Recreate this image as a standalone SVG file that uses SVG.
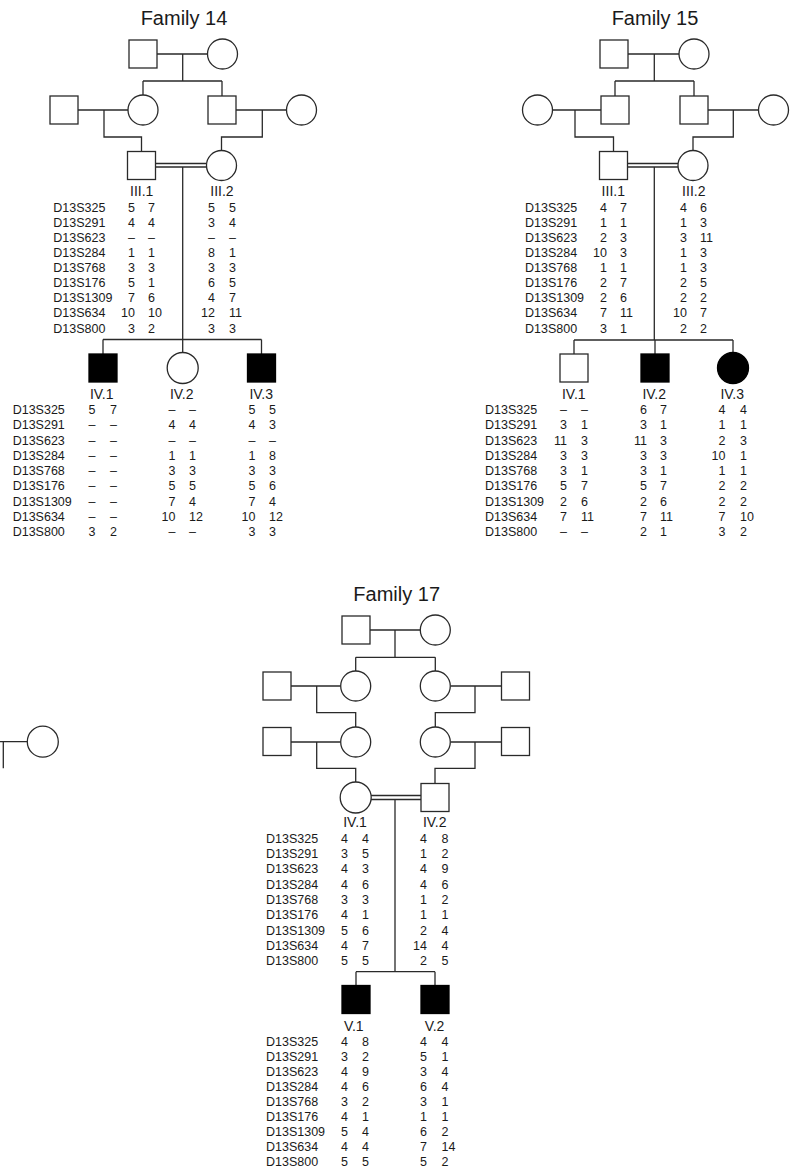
<svg xmlns="http://www.w3.org/2000/svg" width="790" height="1169" viewBox="0 0 790 1169">
<style>
.ln{fill:none;stroke:#2a2a2a;stroke-width:1.3}
.o{fill:#fff;stroke:#2a2a2a;stroke-width:1.3}
.f{fill:#000;stroke:#000;stroke-width:1.3}
text{font-family:"Liberation Sans",Arial,sans-serif;fill:#1a1a1a}
.ttl{font-size:20px;text-anchor:middle}
.lb{font-size:14px;text-anchor:middle}
.d{font-size:12.5px}
.e{text-anchor:end}
</style>
<rect width="790" height="1169" fill="#fff"/>

<g id="connectors">
<!-- Family 14 -->
<path class="ln" d="M157,54H207.5M182.7,54V81M143,81H222M143,81V95M222,81V96"/>
<path class="ln" d="M78,110H128M104,110V137H141.5V151.5M236,110H286.5M262.3,110V137H221.5V150.5"/>
<path class="ln" d="M155.5,163.5H206.5M155.5,167H206.5M182.7,167V339.5M103,339.5H261.5M103,339.5V354M182.7,339.5V352.5M261.5,339.5V354"/>
<!-- Family 15 -->
<path class="ln" d="M628,54H679M654.3,54V81M615,81H694M615,81V96M694,81V96"/>
<path class="ln" d="M552.5,110H601M575,110V137H613.5V151.5M708,110H758.5M733.3,110V137H693V150.5"/>
<path class="ln" d="M627.5,163.5H678M627.5,167H678M654.3,167V340M574,340H733M574,340V354M655,340V354M733,340V352.5"/>
<!-- Family 17 -->
<path class="ln" d="M370,630H420.3M395,630V657.3M355.7,657.3H435.3M355.7,657.3V671M435.3,657.3V671"/>
<path class="ln" d="M291,686H340.7M316.7,686V712.7H355.7V727M451,686H501.5M475,686V712.7H435.3V727"/>
<path class="ln" d="M291,742H340.7M316.7,742V768.3H355.7V782M451,742H501.5M475,742V768.3H435V783.5"/>
<path class="ln" d="M371,795.5H421M371,799.5H421M395,799.5V971.7M356,971.7H435M356,971.7V985.5M435,971.7V985.5"/>
<!-- partial pedigree at left edge -->
<path class="ln" d="M0,741.7H27.3M3.3,741.7V768.3"/>
</g>

<!-- Family 14 -->
<text class="ttl" x="184" y="25">Family 14</text>
<g id="f14-I1"><rect class="o" x="129" y="40" width="28" height="28"/></g>
<g id="f14-I2"><circle class="o" cx="222.5" cy="54" r="15"/></g>
<g id="f14-II1"><rect class="o" x="50" y="96" width="28" height="28"/></g>
<g id="f14-II2"><circle class="o" cx="143" cy="110" r="15"/></g>
<g id="f14-II3"><rect class="o" x="208" y="96" width="28" height="28"/></g>
<g id="f14-II4"><circle class="o" cx="301.5" cy="110" r="15"/></g>
<g id="f14-III1"><rect class="o" x="127.5" y="151.5" width="28" height="28"/>
<text class="lb" x="141.7" y="196">III.1</text>
<text class="d" y="211.7"><tspan x="53.3">D13S325</tspan><tspan x="53.3" dy="15.1">D13S291</tspan><tspan x="53.3" dy="15.1">D13S623</tspan><tspan x="53.3" dy="15.1">D13S284</tspan><tspan x="53.3" dy="15.1">D13S768</tspan><tspan x="53.3" dy="15.1">D13S176</tspan><tspan x="53.3" dy="15.1">D13S1309</tspan><tspan x="53.3" dy="15.1">D13S634</tspan><tspan x="53.3" dy="15.1">D13S800</tspan></text>
<text class="d e" y="211.7"><tspan x="135">5</tspan><tspan x="135" dy="15.1">4</tspan><tspan x="135" dy="15.1">–</tspan><tspan x="135" dy="15.1">1</tspan><tspan x="135" dy="15.1">3</tspan><tspan x="135" dy="15.1">5</tspan><tspan x="135" dy="15.1">7</tspan><tspan x="135" dy="15.1">10</tspan><tspan x="135" dy="15.1">3</tspan></text>
<text class="d" y="211.7"><tspan x="148">7</tspan><tspan x="148" dy="15.1">4</tspan><tspan x="148" dy="15.1">–</tspan><tspan x="148" dy="15.1">1</tspan><tspan x="148" dy="15.1">3</tspan><tspan x="148" dy="15.1">1</tspan><tspan x="148" dy="15.1">6</tspan><tspan x="148" dy="15.1">10</tspan><tspan x="148" dy="15.1">2</tspan></text>
</g>
<g id="f14-III2"><circle class="o" cx="221.5" cy="165.5" r="15"/>
<text class="lb" x="222" y="196">III.2</text>
<text class="d e" y="211.7"><tspan x="215">5</tspan><tspan x="215" dy="15.1">3</tspan><tspan x="215" dy="15.1">–</tspan><tspan x="215" dy="15.1">8</tspan><tspan x="215" dy="15.1">3</tspan><tspan x="215" dy="15.1">6</tspan><tspan x="215" dy="15.1">4</tspan><tspan x="215" dy="15.1">12</tspan><tspan x="215" dy="15.1">3</tspan></text>
<text class="d" y="211.7"><tspan x="229">5</tspan><tspan x="229" dy="15.1">4</tspan><tspan x="229" dy="15.1">–</tspan><tspan x="229" dy="15.1">1</tspan><tspan x="229" dy="15.1">3</tspan><tspan x="229" dy="15.1">5</tspan><tspan x="229" dy="15.1">7</tspan><tspan x="229" dy="15.1">11</tspan><tspan x="229" dy="15.1">3</tspan></text>
</g>
<g id="f14-IV1"><rect class="f" x="89" y="354" width="28" height="28"/>
<text class="lb" x="101.7" y="399">IV.1</text>
<text class="d" y="414"><tspan x="12.7">D13S325</tspan><tspan x="12.7" dy="15.25">D13S291</tspan><tspan x="12.7" dy="15.25">D13S623</tspan><tspan x="12.7" dy="15.25">D13S284</tspan><tspan x="12.7" dy="15.25">D13S768</tspan><tspan x="12.7" dy="15.25">D13S176</tspan><tspan x="12.7" dy="15.25">D13S1309</tspan><tspan x="12.7" dy="15.25">D13S634</tspan><tspan x="12.7" dy="15.25">D13S800</tspan></text>
<text class="d e" y="414"><tspan x="95.5">5</tspan><tspan x="95.5" dy="15.25">–</tspan><tspan x="95.5" dy="15.25">–</tspan><tspan x="95.5" dy="15.25">–</tspan><tspan x="95.5" dy="15.25">–</tspan><tspan x="95.5" dy="15.25">–</tspan><tspan x="95.5" dy="15.25">–</tspan><tspan x="95.5" dy="15.25">–</tspan><tspan x="95.5" dy="15.25">3</tspan></text>
<text class="d" y="414"><tspan x="110">7</tspan><tspan x="110" dy="15.25">–</tspan><tspan x="110" dy="15.25">–</tspan><tspan x="110" dy="15.25">–</tspan><tspan x="110" dy="15.25">–</tspan><tspan x="110" dy="15.25">–</tspan><tspan x="110" dy="15.25">–</tspan><tspan x="110" dy="15.25">–</tspan><tspan x="110" dy="15.25">2</tspan></text>
</g>
<g id="f14-IV2"><circle class="o" cx="182.7" cy="368" r="15.5"/>
<text class="lb" x="181.7" y="399">IV.2</text>
<text class="d e" y="414"><tspan x="175.5">–</tspan><tspan x="175.5" dy="15.25">4</tspan><tspan x="175.5" dy="15.25">–</tspan><tspan x="175.5" dy="15.25">1</tspan><tspan x="175.5" dy="15.25">3</tspan><tspan x="175.5" dy="15.25">5</tspan><tspan x="175.5" dy="15.25">7</tspan><tspan x="175.5" dy="15.25">10</tspan><tspan x="175.5" dy="15.25">–</tspan></text>
<text class="d" y="414"><tspan x="189">–</tspan><tspan x="189" dy="15.25">4</tspan><tspan x="189" dy="15.25">–</tspan><tspan x="189" dy="15.25">1</tspan><tspan x="189" dy="15.25">3</tspan><tspan x="189" dy="15.25">5</tspan><tspan x="189" dy="15.25">4</tspan><tspan x="189" dy="15.25">12</tspan><tspan x="189" dy="15.25">–</tspan></text>
</g>
<g id="f14-IV3"><rect class="f" x="247.5" y="354" width="28" height="28"/>
<text class="lb" x="261.2" y="399">IV.3</text>
<text class="d e" y="414"><tspan x="255.5">5</tspan><tspan x="255.5" dy="15.25">4</tspan><tspan x="255.5" dy="15.25">–</tspan><tspan x="255.5" dy="15.25">1</tspan><tspan x="255.5" dy="15.25">3</tspan><tspan x="255.5" dy="15.25">5</tspan><tspan x="255.5" dy="15.25">7</tspan><tspan x="255.5" dy="15.25">10</tspan><tspan x="255.5" dy="15.25">3</tspan></text>
<text class="d" y="414"><tspan x="269">5</tspan><tspan x="269" dy="15.25">3</tspan><tspan x="269" dy="15.25">–</tspan><tspan x="269" dy="15.25">8</tspan><tspan x="269" dy="15.25">3</tspan><tspan x="269" dy="15.25">6</tspan><tspan x="269" dy="15.25">4</tspan><tspan x="269" dy="15.25">12</tspan><tspan x="269" dy="15.25">3</tspan></text>
</g>

<!-- Family 15 -->
<text class="ttl" x="655" y="25">Family 15</text>
<g id="f15-I1"><rect class="o" x="600" y="40" width="28" height="28"/></g>
<g id="f15-I2"><circle class="o" cx="694" cy="54" r="15"/></g>
<g id="f15-II1"><circle class="o" cx="537.5" cy="110" r="15"/></g>
<g id="f15-II2"><rect class="o" x="601" y="96" width="28" height="28"/></g>
<g id="f15-II3"><rect class="o" x="680" y="96" width="28" height="28"/></g>
<g id="f15-II4"><circle class="o" cx="773.5" cy="110" r="15"/></g>
<g id="f15-III1"><rect class="o" x="599.5" y="151.5" width="28" height="28"/>
<text class="lb" x="613.3" y="196">III.1</text>
<text class="d" y="211.7"><tspan x="525">D13S325</tspan><tspan x="525" dy="15.1">D13S291</tspan><tspan x="525" dy="15.1">D13S623</tspan><tspan x="525" dy="15.1">D13S284</tspan><tspan x="525" dy="15.1">D13S768</tspan><tspan x="525" dy="15.1">D13S176</tspan><tspan x="525" dy="15.1">D13S1309</tspan><tspan x="525" dy="15.1">D13S634</tspan><tspan x="525" dy="15.1">D13S800</tspan></text>
<text class="d e" y="211.7"><tspan x="607">4</tspan><tspan x="607" dy="15.1">1</tspan><tspan x="607" dy="15.1">2</tspan><tspan x="607" dy="15.1">10</tspan><tspan x="607" dy="15.1">1</tspan><tspan x="607" dy="15.1">2</tspan><tspan x="607" dy="15.1">2</tspan><tspan x="607" dy="15.1">7</tspan><tspan x="607" dy="15.1">3</tspan></text>
<text class="d" y="211.7"><tspan x="620">7</tspan><tspan x="620" dy="15.1">1</tspan><tspan x="620" dy="15.1">3</tspan><tspan x="620" dy="15.1">3</tspan><tspan x="620" dy="15.1">1</tspan><tspan x="620" dy="15.1">7</tspan><tspan x="620" dy="15.1">6</tspan><tspan x="620" dy="15.1">11</tspan><tspan x="620" dy="15.1">1</tspan></text>
</g>
<g id="f15-III2"><circle class="o" cx="693" cy="165.5" r="15"/>
<text class="lb" x="693.8" y="196">III.2</text>
<text class="d e" y="211.7"><tspan x="687">4</tspan><tspan x="687" dy="15.1">1</tspan><tspan x="687" dy="15.1">3</tspan><tspan x="687" dy="15.1">1</tspan><tspan x="687" dy="15.1">1</tspan><tspan x="687" dy="15.1">2</tspan><tspan x="687" dy="15.1">2</tspan><tspan x="687" dy="15.1">10</tspan><tspan x="687" dy="15.1">2</tspan></text>
<text class="d" y="211.7"><tspan x="700">6</tspan><tspan x="700" dy="15.1">3</tspan><tspan x="700" dy="15.1">11</tspan><tspan x="700" dy="15.1">3</tspan><tspan x="700" dy="15.1">3</tspan><tspan x="700" dy="15.1">5</tspan><tspan x="700" dy="15.1">2</tspan><tspan x="700" dy="15.1">7</tspan><tspan x="700" dy="15.1">2</tspan></text>
</g>
<g id="f15-IV1"><rect class="o" x="560" y="354" width="28" height="28"/>
<text class="lb" x="573.8" y="399">IV.1</text>
<text class="d" y="414"><tspan x="485">D13S325</tspan><tspan x="485" dy="15.25">D13S291</tspan><tspan x="485" dy="15.25">D13S623</tspan><tspan x="485" dy="15.25">D13S284</tspan><tspan x="485" dy="15.25">D13S768</tspan><tspan x="485" dy="15.25">D13S176</tspan><tspan x="485" dy="15.25">D13S1309</tspan><tspan x="485" dy="15.25">D13S634</tspan><tspan x="485" dy="15.25">D13S800</tspan></text>
<text class="d e" y="414"><tspan x="567">–</tspan><tspan x="567" dy="15.25">3</tspan><tspan x="567" dy="15.25">11</tspan><tspan x="567" dy="15.25">3</tspan><tspan x="567" dy="15.25">3</tspan><tspan x="567" dy="15.25">5</tspan><tspan x="567" dy="15.25">2</tspan><tspan x="567" dy="15.25">7</tspan><tspan x="567" dy="15.25">–</tspan></text>
<text class="d" y="414"><tspan x="581">–</tspan><tspan x="581" dy="15.25">1</tspan><tspan x="581" dy="15.25">3</tspan><tspan x="581" dy="15.25">3</tspan><tspan x="581" dy="15.25">1</tspan><tspan x="581" dy="15.25">7</tspan><tspan x="581" dy="15.25">6</tspan><tspan x="581" dy="15.25">11</tspan><tspan x="581" dy="15.25">–</tspan></text>
</g>
<g id="f15-IV2"><rect class="f" x="641" y="354" width="28" height="28"/>
<text class="lb" x="654.2" y="399">IV.2</text>
<text class="d e" y="414"><tspan x="647">6</tspan><tspan x="647" dy="15.25">3</tspan><tspan x="647" dy="15.25">11</tspan><tspan x="647" dy="15.25">3</tspan><tspan x="647" dy="15.25">3</tspan><tspan x="647" dy="15.25">5</tspan><tspan x="647" dy="15.25">2</tspan><tspan x="647" dy="15.25">7</tspan><tspan x="647" dy="15.25">2</tspan></text>
<text class="d" y="414"><tspan x="660">7</tspan><tspan x="660" dy="15.25">1</tspan><tspan x="660" dy="15.25">3</tspan><tspan x="660" dy="15.25">3</tspan><tspan x="660" dy="15.25">1</tspan><tspan x="660" dy="15.25">7</tspan><tspan x="660" dy="15.25">6</tspan><tspan x="660" dy="15.25">11</tspan><tspan x="660" dy="15.25">1</tspan></text>
</g>
<g id="f15-IV3"><circle class="f" cx="733" cy="368" r="15.5"/>
<text class="lb" x="732.2" y="399">IV.3</text>
<text class="d e" y="414"><tspan x="725.5">4</tspan><tspan x="725.5" dy="15.25">1</tspan><tspan x="725.5" dy="15.25">2</tspan><tspan x="725.5" dy="15.25">10</tspan><tspan x="725.5" dy="15.25">1</tspan><tspan x="725.5" dy="15.25">2</tspan><tspan x="725.5" dy="15.25">2</tspan><tspan x="725.5" dy="15.25">7</tspan><tspan x="725.5" dy="15.25">3</tspan></text>
<text class="d" y="414"><tspan x="740">4</tspan><tspan x="740" dy="15.25">1</tspan><tspan x="740" dy="15.25">3</tspan><tspan x="740" dy="15.25">1</tspan><tspan x="740" dy="15.25">1</tspan><tspan x="740" dy="15.25">2</tspan><tspan x="740" dy="15.25">2</tspan><tspan x="740" dy="15.25">10</tspan><tspan x="740" dy="15.25">2</tspan></text>
</g>

<!-- partial pedigree at left edge -->
<g id="edge-circle"><circle class="o" cx="42.8" cy="741.7" r="15.5"/></g>

<!-- Family 17 -->
<text class="ttl" x="396.7" y="600.7">Family 17</text>
<g id="f17-I1"><rect class="o" x="342" y="616" width="28" height="28"/></g>
<g id="f17-I2"><circle class="o" cx="435.3" cy="630" r="15"/></g>
<g id="f17-II1"><rect class="o" x="263" y="672" width="28" height="28"/></g>
<g id="f17-II2"><circle class="o" cx="355.7" cy="686" r="15"/></g>
<g id="f17-II3"><circle class="o" cx="435.3" cy="686" r="15"/></g>
<g id="f17-II4"><rect class="o" x="501.5" y="672" width="28" height="28"/></g>
<g id="f17-III1"><rect class="o" x="263" y="727.5" width="28" height="28"/></g>
<g id="f17-III2"><circle class="o" cx="355.7" cy="742" r="15"/></g>
<g id="f17-III3"><circle class="o" cx="435.3" cy="742" r="15"/></g>
<g id="f17-III4"><rect class="o" x="501.5" y="727.5" width="28" height="28"/></g>
<g id="f17-IV1"><circle class="o" cx="355.7" cy="797.5" r="15.5"/>
<text class="lb" x="355" y="826.7">IV.1</text>
<text class="d" y="842.7"><tspan x="266">D13S325</tspan><tspan x="266" dy="15.3">D13S291</tspan><tspan x="266" dy="15.3">D13S623</tspan><tspan x="266" dy="15.3">D13S284</tspan><tspan x="266" dy="15.3">D13S768</tspan><tspan x="266" dy="15.3">D13S176</tspan><tspan x="266" dy="15.3">D13S1309</tspan><tspan x="266" dy="15.3">D13S634</tspan><tspan x="266" dy="15.3">D13S800</tspan></text>
<text class="d e" y="842.7"><tspan x="348">4</tspan><tspan x="348" dy="15.3">3</tspan><tspan x="348" dy="15.3">4</tspan><tspan x="348" dy="15.3">4</tspan><tspan x="348" dy="15.3">3</tspan><tspan x="348" dy="15.3">4</tspan><tspan x="348" dy="15.3">5</tspan><tspan x="348" dy="15.3">4</tspan><tspan x="348" dy="15.3">5</tspan></text>
<text class="d" y="842.7"><tspan x="362">4</tspan><tspan x="362" dy="15.3">5</tspan><tspan x="362" dy="15.3">3</tspan><tspan x="362" dy="15.3">6</tspan><tspan x="362" dy="15.3">3</tspan><tspan x="362" dy="15.3">1</tspan><tspan x="362" dy="15.3">6</tspan><tspan x="362" dy="15.3">7</tspan><tspan x="362" dy="15.3">5</tspan></text>
</g>
<g id="f17-IV2"><rect class="o" x="421" y="783.5" width="28" height="28"/>
<text class="lb" x="434.7" y="826.7">IV.2</text>
<text class="d e" y="842.7"><tspan x="427">4</tspan><tspan x="427" dy="15.3">1</tspan><tspan x="427" dy="15.3">4</tspan><tspan x="427" dy="15.3">4</tspan><tspan x="427" dy="15.3">1</tspan><tspan x="427" dy="15.3">1</tspan><tspan x="427" dy="15.3">2</tspan><tspan x="427" dy="15.3">14</tspan><tspan x="427" dy="15.3">2</tspan></text>
<text class="d" y="842.7"><tspan x="441.5">8</tspan><tspan x="441.5" dy="15.3">2</tspan><tspan x="441.5" dy="15.3">9</tspan><tspan x="441.5" dy="15.3">6</tspan><tspan x="441.5" dy="15.3">2</tspan><tspan x="441.5" dy="15.3">1</tspan><tspan x="441.5" dy="15.3">4</tspan><tspan x="441.5" dy="15.3">4</tspan><tspan x="441.5" dy="15.3">5</tspan></text>
</g>
<g id="f17-V1"><rect class="f" x="342" y="985.5" width="28" height="28"/>
<text class="lb" x="353.8" y="1030.7">V.1</text>
<text class="d" y="1045.7"><tspan x="266">D13S325</tspan><tspan x="266" dy="15.04">D13S291</tspan><tspan x="266" dy="15.04">D13S623</tspan><tspan x="266" dy="15.04">D13S284</tspan><tspan x="266" dy="15.04">D13S768</tspan><tspan x="266" dy="15.04">D13S176</tspan><tspan x="266" dy="15.04">D13S1309</tspan><tspan x="266" dy="15.04">D13S634</tspan><tspan x="266" dy="15.04">D13S800</tspan></text>
<text class="d e" y="1045.7"><tspan x="348">4</tspan><tspan x="348" dy="15.04">3</tspan><tspan x="348" dy="15.04">4</tspan><tspan x="348" dy="15.04">4</tspan><tspan x="348" dy="15.04">3</tspan><tspan x="348" dy="15.04">4</tspan><tspan x="348" dy="15.04">5</tspan><tspan x="348" dy="15.04">4</tspan><tspan x="348" dy="15.04">5</tspan></text>
<text class="d" y="1045.7"><tspan x="362">8</tspan><tspan x="362" dy="15.04">2</tspan><tspan x="362" dy="15.04">9</tspan><tspan x="362" dy="15.04">6</tspan><tspan x="362" dy="15.04">2</tspan><tspan x="362" dy="15.04">1</tspan><tspan x="362" dy="15.04">4</tspan><tspan x="362" dy="15.04">4</tspan><tspan x="362" dy="15.04">5</tspan></text>
</g>
<g id="f17-V2"><rect class="f" x="421" y="985.5" width="28" height="28"/>
<text class="lb" x="434.5" y="1030.7">V.2</text>
<text class="d e" y="1045.7"><tspan x="427">4</tspan><tspan x="427" dy="15.04">5</tspan><tspan x="427" dy="15.04">3</tspan><tspan x="427" dy="15.04">6</tspan><tspan x="427" dy="15.04">3</tspan><tspan x="427" dy="15.04">1</tspan><tspan x="427" dy="15.04">6</tspan><tspan x="427" dy="15.04">7</tspan><tspan x="427" dy="15.04">5</tspan></text>
<text class="d" y="1045.7"><tspan x="441.5">4</tspan><tspan x="441.5" dy="15.04">1</tspan><tspan x="441.5" dy="15.04">4</tspan><tspan x="441.5" dy="15.04">4</tspan><tspan x="441.5" dy="15.04">1</tspan><tspan x="441.5" dy="15.04">1</tspan><tspan x="441.5" dy="15.04">2</tspan><tspan x="441.5" dy="15.04">14</tspan><tspan x="441.5" dy="15.04">2</tspan></text>
</g>
</svg>
